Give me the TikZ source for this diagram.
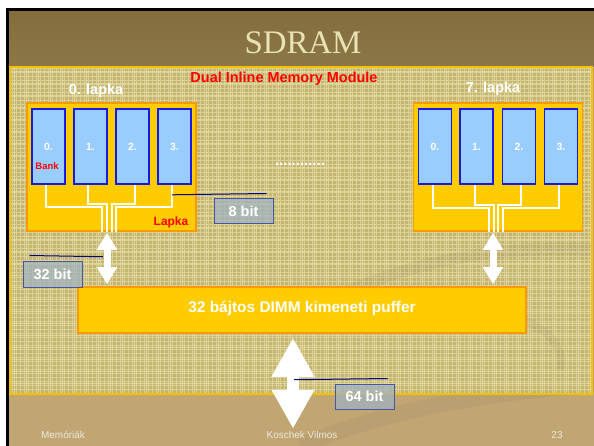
\documentclass[tikz,border=0pt]{standalone}
\usepackage{fontspec}
\setmainfont{Liberation Sans}
\newfontfamily\titlefont{Liberation Serif}
\usetikzlibrary{arrows.meta,calc}
\definecolor{titlebg}{HTML}{836D3D}
\definecolor{titlebgb}{HTML}{8C7747}
\definecolor{footbg}{HTML}{C1A674}
\definecolor{texbase}{HTML}{C4B472}
\definecolor{texline}{HTML}{DCD195}
\definecolor{texbright}{HTML}{EEE6B0}
\definecolor{panelborder}{HTML}{F2C200}
\definecolor{chipfill}{HTML}{FFCC00}
\definecolor{chipborder}{HTML}{FF9900}
\definecolor{bankfill}{HTML}{99CCFF}
\definecolor{bankborder}{HTML}{1A1AE6}
\definecolor{leadblue}{HTML}{000080}
\definecolor{bitfill}{HTML}{9DB2C4}
\definecolor{bitborder}{HTML}{4A55A0}
\definecolor{titletext}{HTML}{E8E2B4}
\definecolor{foottext}{HTML}{EEE8DA}
\begin{document}
\begin{tikzpicture}[x=1bp,y=-1bp,
  chip/.style={draw=chipborder, line width=1.5bp, fill=chipfill, minimum width=169bp, minimum height=128bp, inner sep=0pt},
  bank/.style={draw=bankborder, line width=1.6bp, fill=bankfill, minimum width=33bp, minimum height=75bp, inner sep=0pt, text=white, font=\bfseries\fontsize{10.5}{12}\selectfont},
  wire/.style={white, line width=1.8bp},
  lead/.style={draw=leadblue, line width=1bp},
  bitbox/.style={draw=bitborder, line width=1bp, fill=bitfill, fill opacity=0.7, text opacity=1, text=white, font=\bfseries\fontsize{14.5}{16}\selectfont, minimum width=59bp, minimum height=25bp, inner sep=0pt},
  dblarrow/.style={draw=white, line width=7bp, {Triangle[width=19bp,length=17bp]}-{Triangle[width=19bp,length=17bp]}},
  bigarrow/.style={draw=white, line width=12bp, {Triangle[width=40bp,length=39bp]}-{Triangle[width=40bp,length=39bp]}},
  lbl/.style={text=white, font=\bfseries\fontsize{14.5}{16}\selectfont, inner sep=0pt},
  redlbl/.style={text=red, font=\bfseries\fontsize{#1}{16}\selectfont, inner sep=0pt},
  foot/.style={text=foottext, font=\fontsize{10}{12}\selectfont, inner sep=0pt}
]
\useasboundingbox (0,0) rectangle (594,446);
% slide background
\fill[white] (0,0) rectangle (594,446);
\fill[footbg] (9,11) rectangle (594,446);
\shade[top color=titlebg, bottom color=titlebgb] (9,11) rectangle (594,67);
\fill[black] (6,8) rectangle (594,11);
\fill[black] (6,8) rectangle (9,446);
% footer swoosh
\draw[line width=16bp, black!70, opacity=0.06] (300,446) .. controls (400,405) and (500,392) .. (594,385);
% textured panel
\fill[texbase] (10,67) rectangle (592,394);
\begin{scope}
\clip (10,67) rectangle (592,394);
\foreach \x in {12,16,...,592} {\draw[texline, line width=1bp] (\x,67) -- (\x,394);}
\foreach \y in {69,73,...,394} {\draw[texline, line width=1bp] (10,\y) -- (592,\y);}
\foreach \x in {14,26,...,592} {\draw[texbright, line width=0.8bp, opacity=0.6] (\x,67) -- (\x,394);}
\foreach \y in {71,83,...,394} {\draw[texbright, line width=0.8bp, opacity=0.6] (10,\y) -- (592,\y);}
\draw[line width=12bp, black!70, opacity=0.06] (330,300) .. controls (420,255) and (520,245) .. (600,250);
\draw[line width=8bp, black!70, opacity=0.06] (420,330) .. controls (500,290) and (570,330) .. (560,370);
\end{scope}
\draw[panelborder, line width=1.5bp] (10,67) rectangle (592,394);
% title
\node[text=titletext, font=\titlefont\fontsize{33}{36}\selectfont, inner sep=0pt] (title) at (303,43) {SDRAM};
\node[redlbl=14.5] (dimm) at (284,79) {Dual Inline Memory Module};
\node[lbl] (lapka0) at (96,91) {0. lapka};
\node[lbl] (lapka7) at (493,89) {7. lapka};
% chips
\node[chip] (chipL) at (111.5,167) {};
\node[chip] (chipR) at (498,167) {};
\node[bank] (L0) at (48.5,146.5) {0.};
\node[bank] (L1) at (90.5,146.5) {1.};
\node[bank] (L2) at (132.5,146.5) {2.};
\node[bank] (L3) at (174.5,146.5) {3.};
\node[bank] (R0) at (435,146.5) {0.};
\node[bank] (R1) at (476.5,146.5) {1.};
\node[bank] (R2) at (519,146.5) {2.};
\node[bank] (R3) at (561,146.5) {3.};
\node[redlbl=9.5] (banktxt) at (47,166) {Bank};
\node[redlbl=12] (lapkatxt) at (171,222) {Lapka};
\node[lbl, font=\bfseries\fontsize{15}{16}\selectfont] (dots) at (300,164) {............};
% wires left
\draw[wire] ([xshift=-2.5bp]L0.south) |- ($(chipL.south)+(-9.5,-25)$) -- ($(chipL.south)+(-9.5,0)$);
\draw[wire] ([xshift=-2.5bp]L1.south) |- ($(chipL.south)+(-4.5,-28)$) -- ($(chipL.south)+(-4.5,0)$);
\draw[wire] ([xshift=2.5bp]L2.south) |- ($(chipL.south)+(0.5,-28)$) -- ($(chipL.south)+(0.5,0)$);
\draw[wire] ([xshift=-2.5bp]L3.south) |- ($(chipL.south)+(4.5,-25)$) -- ($(chipL.south)+(4.5,0)$);
% wires right
\draw[wire] ([xshift=-2bp]R0.south) |- ($(chipR.south)+(-9,-24)$) -- ($(chipR.south)+(-9,0)$);
\draw[wire] ([xshift=-1.5bp]R1.south) |- ($(chipR.south)+(-4,-27)$) -- ($(chipR.south)+(-4,0)$);
\draw[wire] ([xshift=2bp]R2.south) |- ($(chipR.south)+(0,-27)$) -- ($(chipR.south)+(0,0)$);
\draw[wire] ([xshift=-2bp]R3.south) |- ($(chipR.south)+(5,-24)$) -- ($(chipR.south)+(5,0)$);
% buffer
\node[chip, minimum width=448bp, minimum height=46bp] (buf) at (302,310) {};
\node[lbl, font=\bfseries\fontsize{15.5}{17}\selectfont] (buftxt) at (302,308) {32 bájtos DIMM kimeneti puffer};
% arrows
\coordinate (aLt) at ($(chipL.south)+(-4.5,1)$);
\coordinate (aLb) at (aLt |- buf.north);
\draw[dblarrow] (aLt) -- ([yshift=2bp]aLb);
\coordinate (aRt) at ($(chipR.south)+(-5,1)$);
\coordinate (aRb) at (aRt |- buf.north);
\draw[dblarrow] (aRt) -- ([yshift=2bp]aRb);
\coordinate (aBt) at ($(buf.south)+(-9,4)$);
\coordinate (aBb) at ($(buf.south)+(-9,95)$);
\draw[bigarrow] (aBt) -- (aBb);
% bit labels
\node[bitbox] (b8) at (243.5,211.5) {8 bit};
\node[bitbox] (b32) at (52.5,274.5) {32 bit};
\node[bitbox] (b64) at (364.5,396.5) {64 bit};
\draw[lead] ($(L3.south)+(-2.5,10)$) -- ($(b8.north east)+(-7,-5)$);
\draw[lead] ($(b32.north west)+(7,-6)$) -- ($(aLt)+(-4,24)$);
\draw[lead] ($(aBt)+(1,42)$) -- ($(b64.north east)+(-7,-5)$);
% footer
\node[foot] (f1) at (63,435) {Memóriák};
\node[foot] (f2) at (302,435) {Koschek Vilmos};
\node[foot] (f3) at (557,435) {23};
\end{tikzpicture}
\end{document}
